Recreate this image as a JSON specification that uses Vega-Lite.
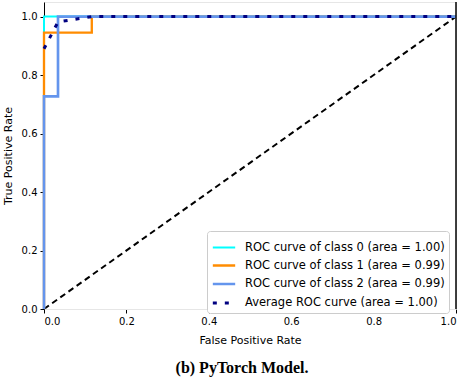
{
  "$schema": "https://vega.github.io/schema/vega-lite/v6.json",
  "width": 412,
  "height": 307,
  "autosize": {"type": "none"},
  "padding": {"left": 44, "top": 2, "right": 10, "bottom": 77},
  "background": "white",
  "config": {
    "view": {"stroke": "#e6e6e6", "strokeWidth": 1},
    "font": "DejaVu Sans"
  },
  "title": {
    "text": "(b) PyTorch Model.",
    "orient": "bottom",
    "anchor": "middle",
    "frame": "group",
    "font": "Liberation Serif",
    "fontWeight": "bold",
    "fontSize": 16,
    "color": "black",
    "offset": 15,
    "dx": -8
  },
  "datasets": {
    "roc": [
      {"series": "ROC curve of class 0 (area = 1.00)", "k": 0, "fpr": 0, "tpr": 0},
      {"series": "ROC curve of class 0 (area = 1.00)", "k": 1, "fpr": 0, "tpr": 1},
      {"series": "ROC curve of class 0 (area = 1.00)", "k": 2, "fpr": 1, "tpr": 1},
      {"series": "ROC curve of class 1 (area = 0.99)", "k": 0, "fpr": 0, "tpr": 0},
      {"series": "ROC curve of class 1 (area = 0.99)", "k": 1, "fpr": 0, "tpr": 0.945},
      {"series": "ROC curve of class 1 (area = 0.99)", "k": 2, "fpr": 0.116, "tpr": 0.945},
      {"series": "ROC curve of class 1 (area = 0.99)", "k": 3, "fpr": 0.116, "tpr": 1},
      {"series": "ROC curve of class 1 (area = 0.99)", "k": 4, "fpr": 1, "tpr": 1},
      {"series": "ROC curve of class 2 (area = 0.99)", "k": 0, "fpr": 0, "tpr": 0},
      {"series": "ROC curve of class 2 (area = 0.99)", "k": 1, "fpr": 0, "tpr": 0.727},
      {"series": "ROC curve of class 2 (area = 0.99)", "k": 2, "fpr": 0.034, "tpr": 0.727},
      {"series": "ROC curve of class 2 (area = 0.99)", "k": 3, "fpr": 0.034, "tpr": 1},
      {"series": "ROC curve of class 2 (area = 0.99)", "k": 4, "fpr": 1, "tpr": 1},
      {"series": "Average ROC curve (area = 1.00)", "k": 0, "fpr": 0, "tpr": 0.89},
      {"series": "Average ROC curve (area = 1.00)", "k": 1, "fpr": 0.034, "tpr": 0.982},
      {"series": "Average ROC curve (area = 1.00)", "k": 2, "fpr": 0.116, "tpr": 1},
      {"series": "Average ROC curve (area = 1.00)", "k": 3, "fpr": 1, "tpr": 1}
    ],
    "diag": [
      {"fpr": 0, "tpr": 0},
      {"fpr": 1, "tpr": 1}
    ],
    "edge": [
      {"fpr": 1}
    ]
  },
  "layer": [
    {
      "data": {"name": "diag"},
      "mark": {"type": "line", "color": "black", "strokeWidth": 2, "strokeDash": [6, 4], "clip": true},
      "encoding": {
        "x": {"field": "fpr", "type": "quantitative", "scale": {"domain": [0, 1], "nice": false}},
        "y": {"field": "tpr", "type": "quantitative", "scale": {"domain": [0, 1.05], "nice": false}}
      }
    },
    {
      "data": {"name": "roc"},
      "mark": {"type": "line", "clip": false, "strokeCap": "butt"},
      "encoding": {
        "x": {
          "field": "fpr", "type": "quantitative",
          "scale": {"domain": [0, 1], "nice": false, "zero": false},
          "axis": {
            "title": "False Positive Rate",
            "values": [0, 0.2, 0.4, 0.6, 0.8, 1.0],
            "format": ".1f",
            "grid": false,
            "labelFont": "DejaVu Sans",
            "labelFontSize": 10,
            "labelColor": "black",
            "labelPadding": 3,
            "tickSize": 4,
            "tickColor": "black",
            "domainColor": "#e6e6e6",
            "titleFont": "DejaVu Sans",
            "titleFontSize": 11,
            "titleFontWeight": "normal",
            "titleColor": "black",
            "titlePadding": 8
          }
        },
        "y": {
          "field": "tpr", "type": "quantitative",
          "scale": {"domain": [0, 1.05], "nice": false, "zero": false},
          "axis": {
            "title": "True Positive Rate",
            "values": [0, 0.2, 0.4, 0.6, 0.8, 1.0],
            "format": ".1f",
            "grid": false,
            "labelFont": "DejaVu Sans",
            "labelFontSize": 10,
            "labelColor": "black",
            "labelPadding": 3,
            "tickSize": 4,
            "tickColor": "black",
            "domainColor": "black",
            "titleFont": "DejaVu Sans",
            "titleFontSize": 11,
            "titleFontWeight": "normal",
            "titleColor": "black",
            "titlePadding": 8
          }
        },
        "order": {"field": "k", "type": "quantitative"},
        "color": {
          "field": "series", "type": "nominal",
          "scale": {
            "domain": ["ROC curve of class 0 (area = 1.00)", "ROC curve of class 1 (area = 0.99)", "ROC curve of class 2 (area = 0.99)", "Average ROC curve (area = 1.00)"],
            "range": ["#00ffff", "#ff8c00", "#6495ed", "#000080"]
          },
          "legend": {
            "title": null,
            "orient": "none",
            "legendX": 163,
            "legendY": 229,
            "symbolType": "stroke",
            "symbolSize": 500,
            "labelFont": "DejaVu Sans",
            "labelFontSize": 11.5,
            "labelColor": "black",
            "labelLimit": 400,
            "rowPadding": -6,
            "padding": 4,
            "fillColor": "white",
            "strokeColor": "#cccccc",
            "cornerRadius": 3,
            "labelOffset": 8
          }
        },
        "strokeWidth": {
          "field": "series", "type": "nominal",
          "scale": {
            "domain": ["ROC curve of class 0 (area = 1.00)", "ROC curve of class 1 (area = 0.99)", "ROC curve of class 2 (area = 0.99)", "Average ROC curve (area = 1.00)"],
            "range": [2, 3, 2, 4]
          },
          "legend": null
        },
        "strokeDash": {
          "field": "series", "type": "nominal",
          "scale": {
            "domain": ["ROC curve of class 0 (area = 1.00)", "ROC curve of class 1 (area = 0.99)", "ROC curve of class 2 (area = 0.99)", "Average ROC curve (area = 1.00)"],
            "range": [[1, 0], [1, 0], [1, 0], [4, 8]]
          },
          "legend": null
        }
      }
    },
    {
      "data": {"name": "edge"},
      "mark": {"type": "rule", "color": "black", "strokeWidth": 1.5},
      "encoding": {
        "x": {"field": "fpr", "type": "quantitative"}
      }
    }
  ]
}
